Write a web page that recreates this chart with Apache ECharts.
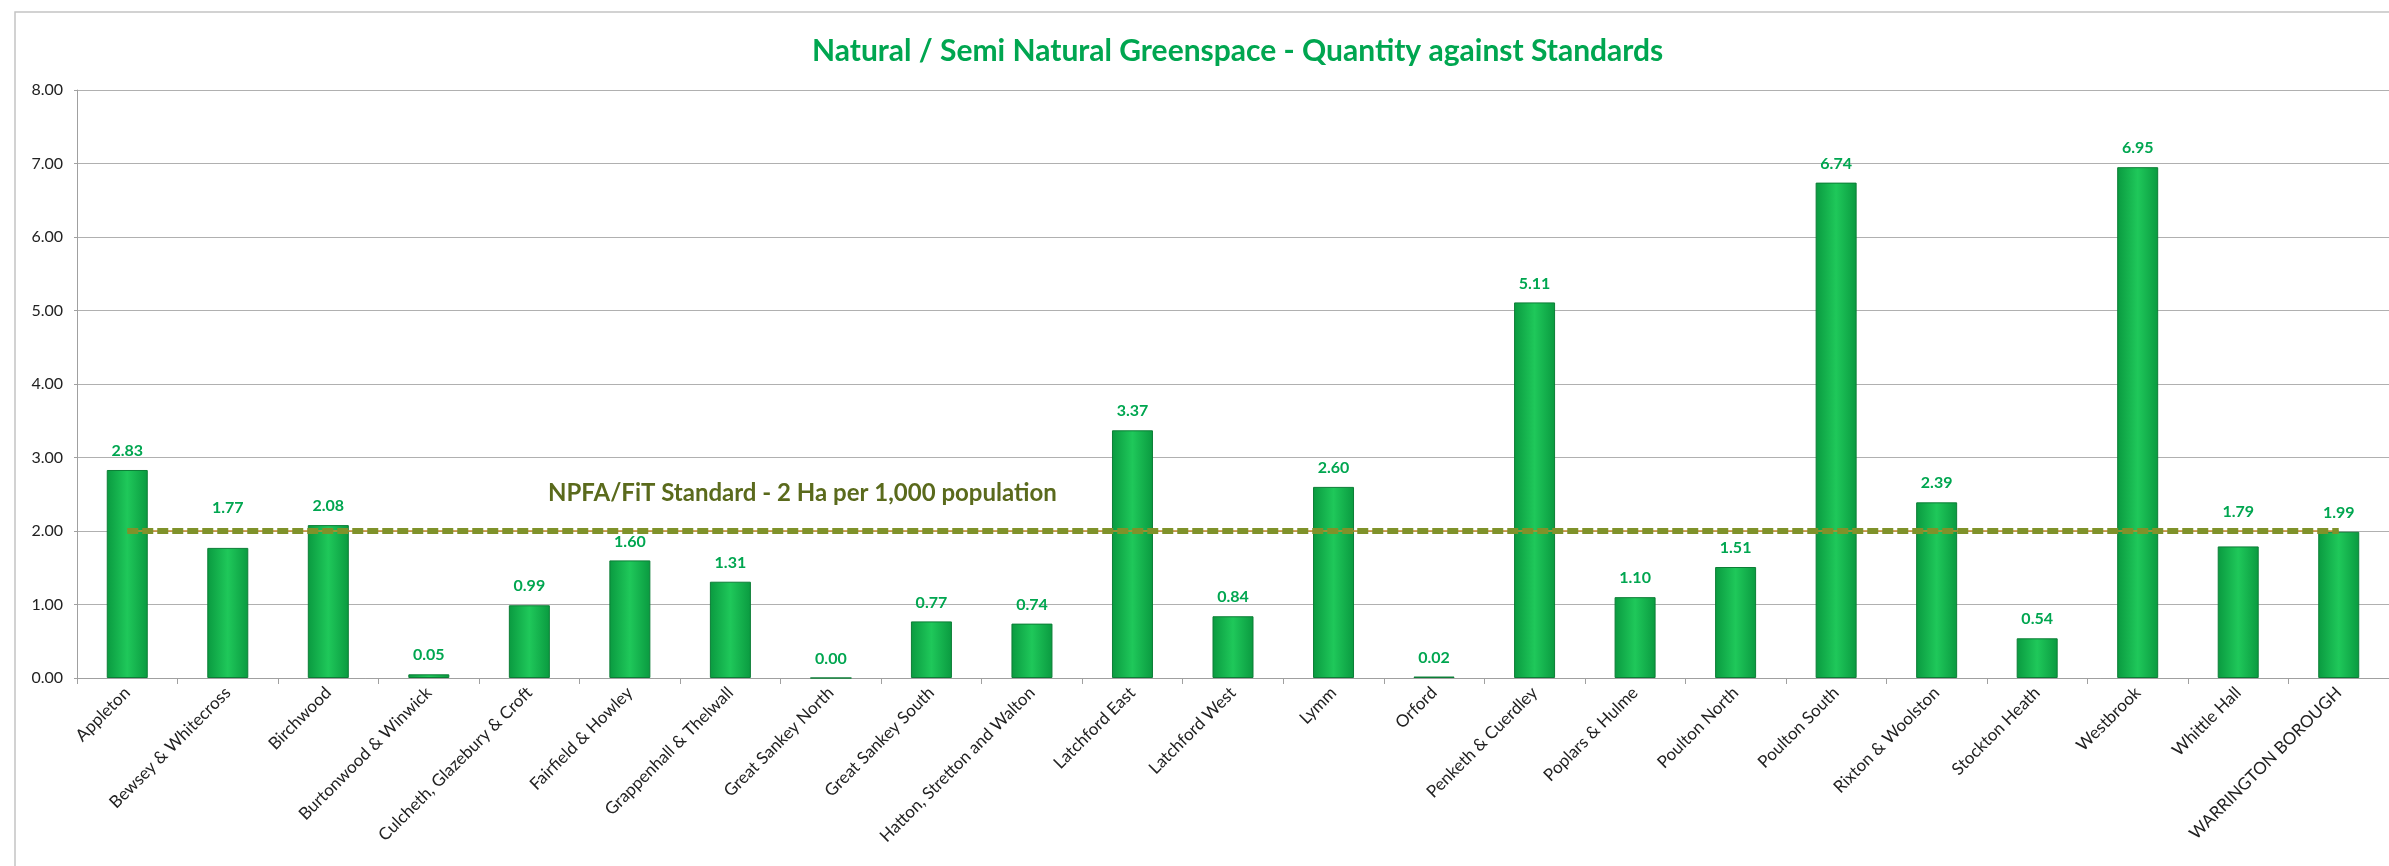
<!DOCTYPE html>
<html lang="en">
<head>
    <meta charset="utf-8">
    <title>Natural / Semi Natural Greenspace</title>
    <style>
        body {
            margin: 0;
            background: #fff;
        }

        #chart {
            width: 2389px;
            height: 866px;
        }
    </style>
</head>
<body>
    <div id="chart"></div>
    <script src="https://cdn.jsdelivr.net/npm/echarts@6/dist/echarts.min.js"></script>
    <script>
        // wards
        var wards = [
            'Appleton', 'Bewsey & Whitecross', 'Birchwood', 'Burtonwood & Winwick',
            'Culcheth, Glazebury & Croft', 'Fairfield & Howley', 'Grappenhall & Thelwall',
            'Great Sankey North', 'Great Sankey South', 'Hatton, Stretton and Walton',
            'Latchford East', 'Latchford West', 'Lymm', 'Orford', 'Penketh & Cuerdley',
            'Poplars & Hulme', 'Poulton North', 'Poulton South', 'Rixton & Woolston',
            'Stockton Heath', 'Westbrook', 'Whittle Hall', 'WARRINGTON BOROUGH'
        ];

        // ha per 1,000 population
        var quantity = [
            2.83, 1.77, 2.08, 0.05, 0.99, 1.60, 1.31, 0.00, 0.77, 0.74, 3.37, 0.84,
            2.60, 0.02, 5.11, 1.10, 1.51, 6.74, 2.39, 0.54, 6.95, 1.79, 1.99
        ];

        // NPFA/FiT standard, one value per ward
        var standard = [
            2, 2, 2, 2, 2, 2, 2, 2, 2, 2, 2, 2,
            2, 2, 2, 2, 2, 2, 2, 2, 2, 2, 2
        ];

        // labels lifted clear of the dashed line (px)
        var labelLift = { 1: 21, 21: 16 };

        var font = 'Lato, "Open Sans", sans-serif';

        var barData = quantity.map(function (v, i) {
            var item = { value: v };
            if (labelLift[i]) {
                item.label = { offset: [0, -labelLift[i]] };
            }
            return item;
        });

        var chart = echarts.init(document.getElementById('chart'));

        chart.setOption({
            animation: false,
            backgroundColor: '#fff',
            textStyle: { fontFamily: font },
            title: {
                text: 'Natural / Semi Natural Greenspace - Quantity against Standards',
                left: 807,
                top: 31,
                textStyle: {
                    color: '#00a650',
                    fontSize: 30,
                    fontWeight: 'bold',
                    fontFamily: font
                }
            },
            grid: {
                left: 77,
                right: 0,
                top: 90,
                bottom: 188
            },
            graphic: [
                {
                    type: 'rect',
                    shape: { x: 15, y: 12, width: 2400, height: 880 },
                    style: { fill: 'none', stroke: '#c4c4c4', lineWidth: 1.5 },
                    z: -1
                },
                {
                    type: 'text',
                    left: 548,
                    top: 481,
                    style: {
                        text: 'NPFA/FiT Standard - 2 Ha per 1,000 population',
                        fill: '#5a6a1c',
                        font: 'bold 24px ' + font
                    }
                }
            ],
            xAxis: {
                type: 'category',
                data: wards,
                axisLine: { lineStyle: { color: '#a0a0a0' } },
                axisTick: { show: true, length: 6, lineStyle: { color: '#a0a0a0' } },
                axisLabel: {
                    rotate: 45,
                    interval: 0,
                    color: '#222',
                    fontSize: 17,
                    margin: 12
                }
            },
            yAxis: {
                type: 'value',
                min: 0,
                max: 8,
                interval: 1,
                axisLine: { show: true, lineStyle: { color: '#a0a0a0' } },
                axisTick: { show: true, length: 3, lineStyle: { color: '#a0a0a0' } },
                axisLabel: {
                    color: '#222',
                    fontSize: 16,
                    margin: 14,
                    formatter: function (v) { return v.toFixed(2); }
                },
                splitLine: { lineStyle: { color: '#b0b0b0' } }
            },
            series: [
                {
                    name: 'Quantity',
                    type: 'bar',
                    data: barData,
                    barWidth: 41,
                    itemStyle: {
                        color: {
                            type: 'linear', x: 0, y: 0, x2: 1, y2: 0,
                            colorStops: [
                                { offset: 0, color: '#0a9a40' },
                                { offset: 0.5, color: '#1fc85a' },
                                { offset: 1, color: '#0a9a40' }
                            ]
                        },
                        borderColor: '#0c7e36',
                        borderWidth: 1
                    },
                    label: {
                        show: true,
                        position: 'top',
                        distance: 11,
                        color: '#00a650',
                        fontSize: 16,
                        fontWeight: 'bold',
                        formatter: function (p) { return p.value.toFixed(2); }
                    },
                    z: 2
                },
                {
                    name: 'Standard base',
                    type: 'line',
                    data: standard,
                    symbol: 'none',
                    lineStyle: { color: '#c8862e', width: 1.5 },
                    z: 3
                },
                {
                    name: 'Standard',
                    type: 'line',
                    data: standard,
                    symbol: 'none',
                    lineStyle: {
                        color: '#7f922a',
                        width: 6,
                        type: [11, 4]
                    },
                    z: 4
                }
            ]
        });
    </script>
</body>
</html>
